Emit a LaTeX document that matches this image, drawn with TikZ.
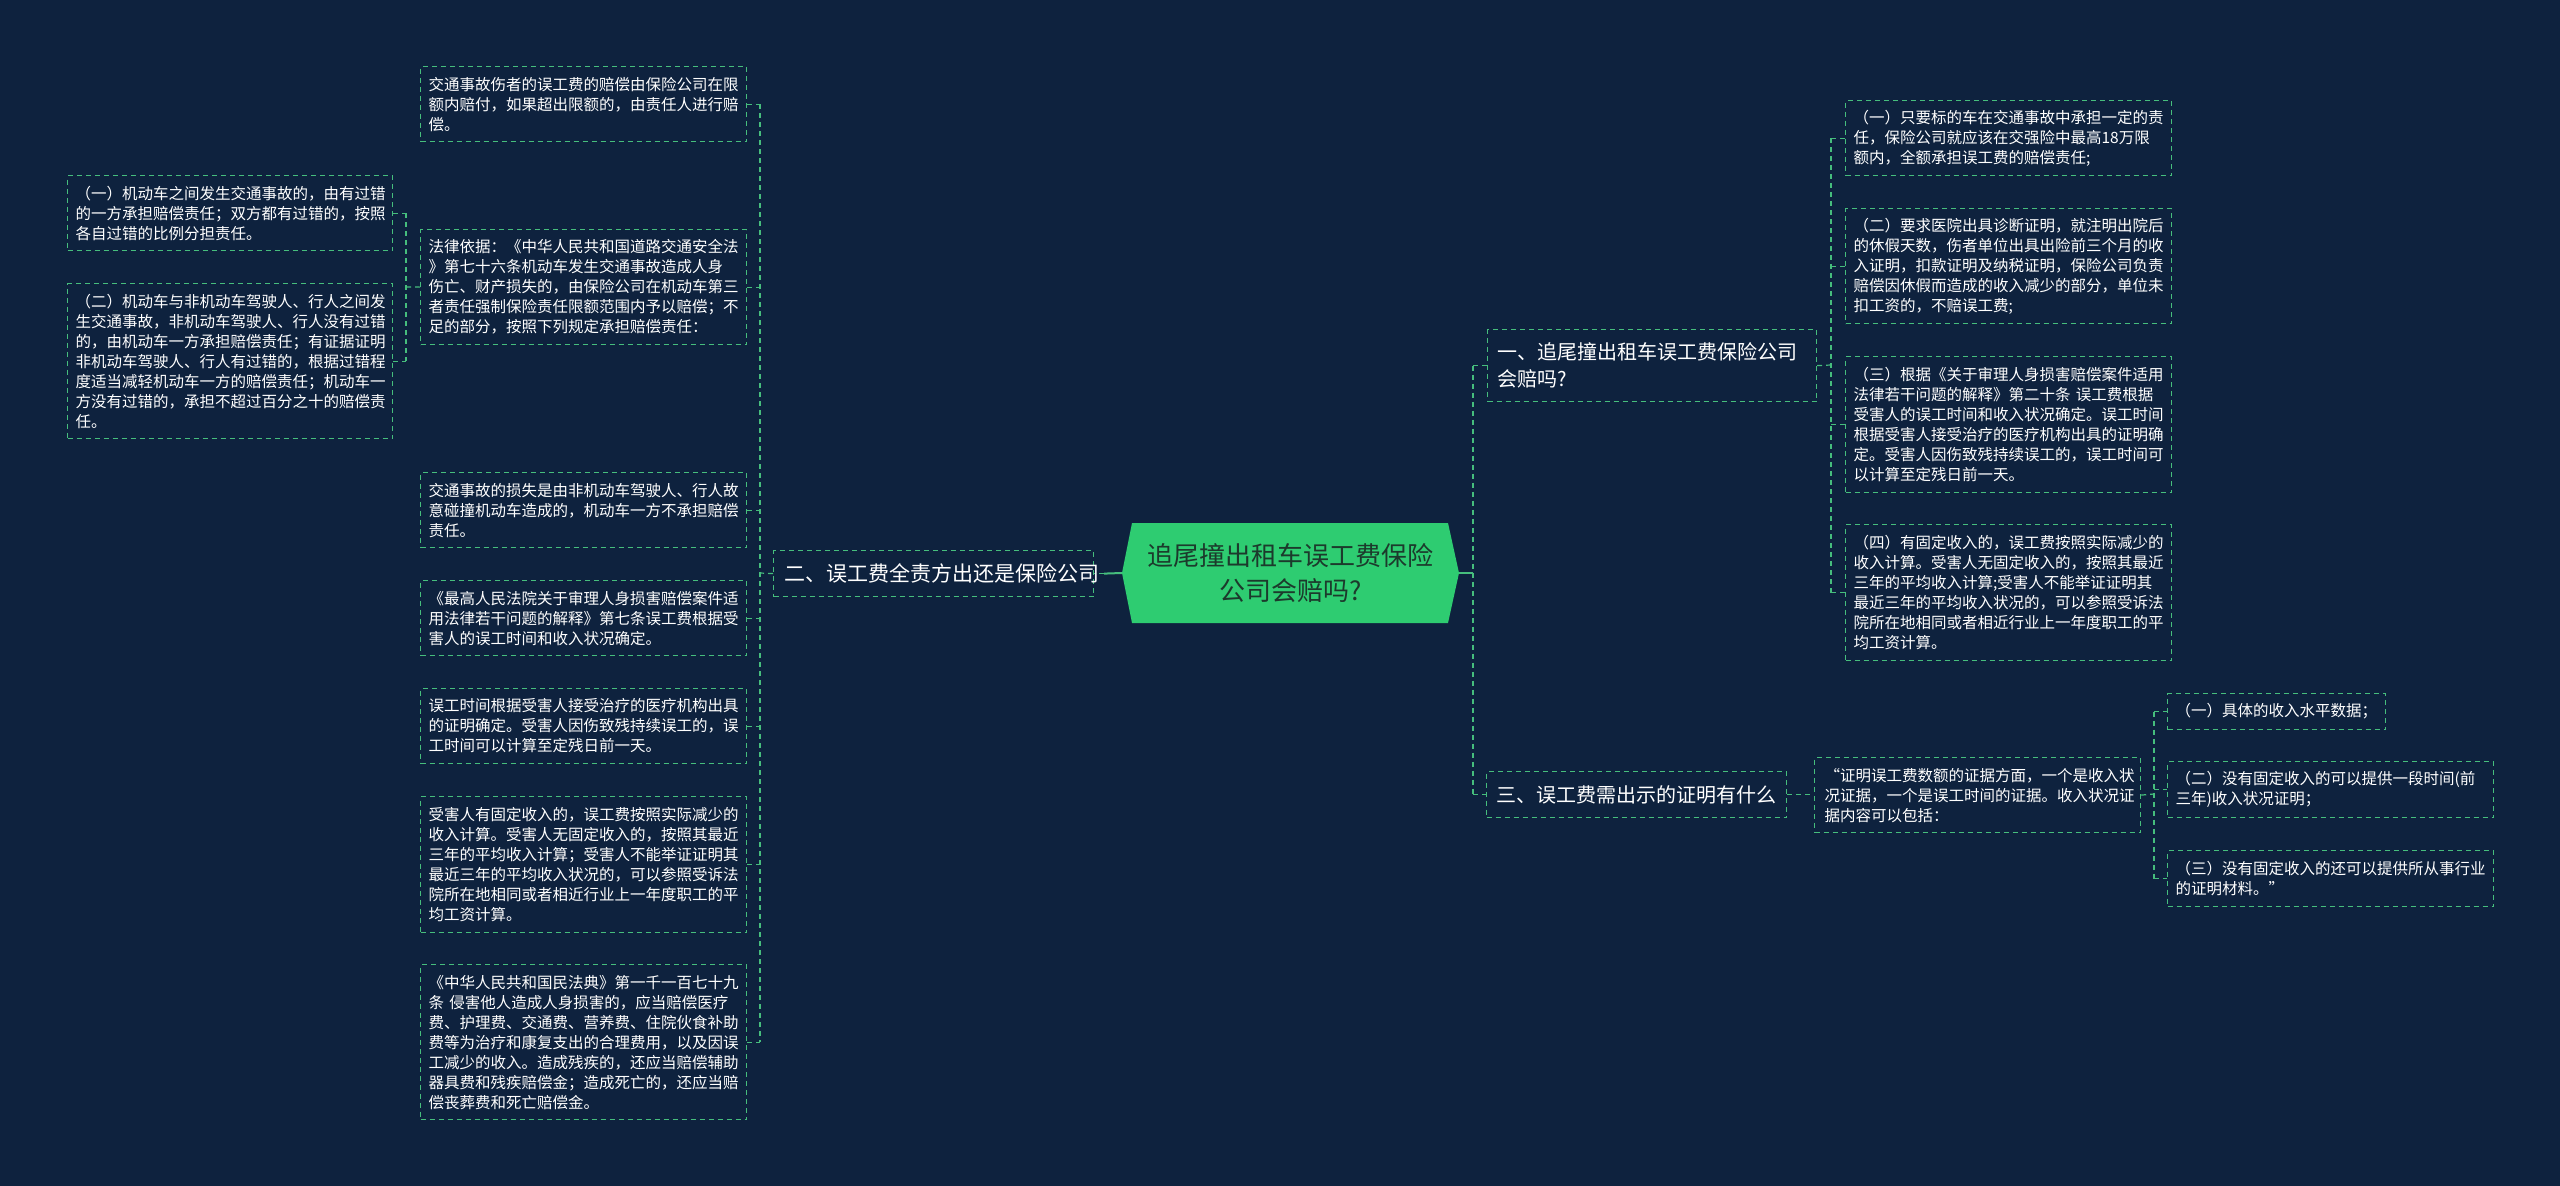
\documentclass[tikz,border=0pt]{standalone}
\usepackage{fontspec}
\setmainfont{Noto Sans CJK SC}
\definecolor{bg}{RGB}{14,34,62}
\definecolor{lc}{RGB}{70,190,125}
\definecolor{rootfill}{RGB}{46,204,113}
\definecolor{roottext}{RGB}{28,58,44}
\newcommand\fsA{\fontsize{15.5pt}{20pt}\selectfont}
\newcommand\fsB{\fontsize{20pt}{27pt}\selectfont}
\newcommand\fsC{\fontsize{21pt}{27pt}\selectfont}
\newcommand\fsR{\fontsize{26pt}{35pt}\selectfont}
\begin{document}
\begin{tikzpicture}[x=1pt,y=-1pt,
  dbox/.style={draw=lc, line width=1.2pt, dash pattern=on 5pt off 4pt, text=white, font=\fsA, align=left, inner xsep=8pt, inner ysep=0pt, anchor=north west},
  lbox/.style={dbox, inner xsep=10pt},
  conn/.style={draw=lc, line width=1.2pt, dash pattern=on 5pt off 4pt},
  rconn/.style={draw=lc, line width=2pt}]
\fill[bg] (0,0) rectangle (2560,1186);
\useasboundingbox (0,0) rectangle (2560,1186);

% root
\fill[rootfill] (1132,523) -- (1448,523) -- (1459,573) -- (1448,623) -- (1132,623) -- (1122,573) -- cycle;
\node[text=roottext, font=\fsR, align=center, minimum width=337pt, minimum height=100pt, inner sep=0pt] (root) at (1290.5,573) {追尾撞出租车误工费保险\\公司会赔吗?};

% level 1
\node[lbox, font=\fsB, text width=309pt, minimum height=72pt] (n1) at (1487,329) {一、追尾撞出租车误工费保险公司\\会赔吗?};
\node[lbox, font=\fsC, text width=298pt, minimum height=46pt, inner xsep=11pt] (n2) at (773,550) {二、误工费全责方出还是保险公司};
\node[lbox, font=\fsB, text width=280pt, minimum height=46pt] (n3) at (1486,771) {三、误工费需出示的证明有什么};

% left column
\node[dbox, text width=310pt, minimum height=75pt] (l1) at (420,66) {交通事故伤者的误工费的赔偿由保险公司在限\\额内赔付，如果超出限额的，由责任人进行赔\\偿。};
\node[dbox, text width=310pt, minimum height=115pt] (l2) at (420,229) {法律依据：《中华人民共和国道路交通安全法\\》第七十六条机动车发生交通事故造成人身\\伤亡、财产损失的，由保险公司在机动车第三\\者责任强制保险责任限额范围内予以赔偿；不\\足的部分，按照下列规定承担赔偿责任：};
\node[dbox, text width=309pt, minimum height=75pt] (ll1) at (67,175) {（一）机动车之间发生交通事故的，由有过错\\的一方承担赔偿责任；双方都有过错的，按照\\各自过错的比例分担责任。};
\node[dbox, text width=309pt, minimum height=155pt] (ll2) at (67,283) {（二）机动车与非机动车驾驶人、行人之间发\\生交通事故，非机动车驾驶人、行人没有过错\\的，由机动车一方承担赔偿责任；有证据证明\\非机动车驾驶人、行人有过错的，根据过错程\\度适当减轻机动车一方的赔偿责任；机动车一\\方没有过错的，承担不超过百分之十的赔偿责\\任。};
\node[dbox, text width=310pt, minimum height=75pt] (l3) at (420,472) {交通事故的损失是由非机动车驾驶人、行人故\\意碰撞机动车造成的，机动车一方不承担赔偿\\责任。};
\node[dbox, text width=310pt, minimum height=75pt] (l4) at (420,580) {《最高人民法院关于审理人身损害赔偿案件适\\用法律若干问题的解释》第七条误工费根据受\\害人的误工时间和收入状况确定。};
\node[dbox, text width=310pt, minimum height=75pt] (l5) at (420,688) {误工时间根据受害人接受治疗的医疗机构出具\\的证明确定。受害人因伤致残持续误工的，误\\工时间可以计算至定残日前一天。};
\node[dbox, text width=310pt, minimum height=136pt] (l6) at (420,796) {受害人有固定收入的，误工费按照实际减少的\\收入计算。受害人无固定收入的，按照其最近\\三年的平均收入计算；受害人不能举证证明其\\最近三年的平均收入状况的，可以参照受诉法\\院所在地相同或者相近行业上一年度职工的平\\均工资计算。};
\node[dbox, text width=310pt, minimum height=155pt] (l7) at (420,964) {《中华人民共和国民法典》第一千一百七十九\\条 侵害他人造成人身损害的，应当赔偿医疗\\费、护理费、交通费、营养费、住院伙食补助\\费等为治疗和康复支出的合理费用，以及因误\\工减少的收入。造成残疾的，还应当赔偿辅助\\器具费和残疾赔偿金；造成死亡的，还应当赔\\偿丧葬费和死亡赔偿金。};

% right column
\node[dbox, text width=310pt, minimum height=75pt] (r1) at (1845,100) {（一）只要标的车在交通事故中承担一定的责\\任，保险公司就应该在交强险中最高18万限\\额内，全额承担误工费的赔偿责任;};
\node[dbox, text width=310pt, minimum height=115pt] (r2) at (1845,208) {（二）要求医院出具诊断证明，就注明出院后\\的休假天数，伤者单位出具出险前三个月的收\\入证明，扣款证明及纳税证明，保险公司负责\\赔偿因休假而造成的收入减少的部分，单位未\\扣工资的，不赔误工费;};
\node[dbox, text width=310pt, minimum height=136pt] (r3) at (1845,356) {（三）根据《关于审理人身损害赔偿案件适用\\法律若干问题的解释》第二十条 误工费根据\\受害人的误工时间和收入状况确定。误工时间\\根据受害人接受治疗的医疗机构出具的证明确\\定。受害人因伤致残持续误工的，误工时间可\\以计算至定残日前一天。};
\node[dbox, text width=310pt, minimum height=136pt] (r4) at (1845,524) {（四）有固定收入的，误工费按照实际减少的\\收入计算。受害人无固定收入的，按照其最近\\三年的平均收入计算;受害人不能举证证明其\\最近三年的平均收入状况的，可以参照受诉法\\院所在地相同或者相近行业上一年度职工的平\\均工资计算。};

\node[dbox, text width=306pt, minimum height=75pt, inner xsep=10pt] (c0) at (1814,757) {“证明误工费数额的证据方面，一个是收入状\\况证据，一个是误工时间的证据。收入状况证\\据内容可以包括：};
\node[dbox, text width=202pt, minimum height=36pt] (c1) at (2167,693) {（一）具体的收入水平数据；};
\node[dbox, text width=310pt, minimum height=56pt] (c2) at (2167,761) {（二）没有固定收入的可以提供一段时间(前\\三年)收入状况证明；};
\node[dbox, text width=310pt, minimum height=56pt] (c3) at (2167,850) {（三）没有固定收入的还可以提供所从事行业\\的证明材料。”};

% trunk coordinates
\coordinate (tL) at (760,573);
\coordinate (tLL) at (406,287);
\coordinate (tR) at (1473,573);
\coordinate (tR1) at (1831,365);
\coordinate (tC) at (2154,794);

% root connectors
\draw[rconn] (root.west) -- ([xshift=10pt]n2.east);
\draw[conn] ([xshift=10pt]n2.east) -- (n2.east);
\draw[rconn] (root.east) -- (tR);

% left main
\draw[conn] (n2.west) -- (tL);
\draw[conn] (l1.east -| tL) -- (l7.east -| tL);
\foreach \n in {l1,l2,l3,l4,l5,l6,l7} {\draw[conn] (\n.east) -- (\n.east -| tL);}
% left sub
\draw[conn] (l2.west) -- (tLL);
\draw[conn] (ll1.east -| tLL) -- (ll2.east -| tLL);
\foreach \n in {ll1,ll2} {\draw[conn] (\n.east) -- (\n.east -| tLL);}

% right main
\draw[conn] (n1.west -| tR) -- (n3.west -| tR);
\draw[conn] (n1.west -| tR) -- (n1.west);
\draw[conn] (n3.west -| tR) -- (n3.west);
% right n1 children
\draw[conn] (n1.east) -- (tR1);
\draw[conn] (r1.west -| tR1) -- (r4.west -| tR1);
\foreach \n in {r1,r2,r3,r4} {\draw[conn] (\n.west -| tR1) -- (\n.west);}
% n3 children
\draw[conn] (n3.east) -- (n3.east -| c0.west);
\draw[conn] (c0.east) -- (tC);
\draw[conn] (c1.west -| tC) -- (c3.west -| tC);
\foreach \n in {c1,c2,c3} {\draw[conn] (\n.west -| tC) -- (\n.west);}
\end{tikzpicture}
\end{document}
